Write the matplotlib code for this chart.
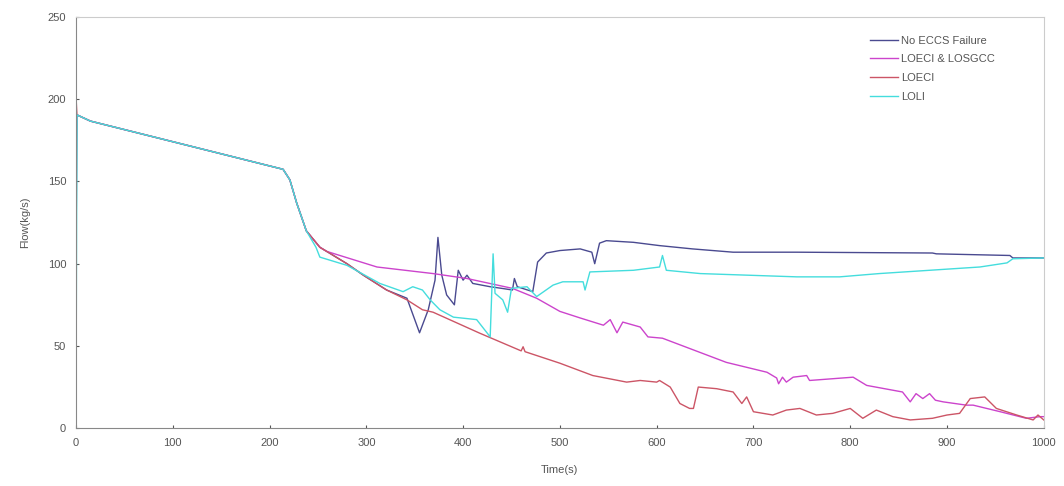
import matplotlib
matplotlib.use("Agg")
import matplotlib.pyplot as plt

plt.rcParams['font.family'] = ['Liberation Sans', 'DejaVu Sans']

# No ECCS Failure
t_eccs = [0, 1, 15, 214, 221, 228, 238, 252, 259, 280, 297, 321, 342, 355, 364, 371, 374,
          378, 383, 391, 395, 400, 404, 410, 428, 440, 451, 453, 456, 472, 477, 486, 500, 521, 533,
          536, 541, 548, 576, 603, 637, 679, 745, 885, 889, 965, 968, 1000]
v_eccs = [100, 190.5, 186.7, 157.4, 151, 137, 120, 110, 107.5, 100, 93, 84, 79, 58, 72, 90, 116,
          93, 81, 75, 96, 90, 93, 88, 86, 85, 84, 91, 86, 83, 101, 106.5, 108, 109, 107,
          100, 112.5, 114, 113, 111, 109, 107, 107, 106.5, 106, 105, 103.5, 103.5]

# LOECI & LOSGCC
t_losg = [0, 1, 15, 214, 221, 228, 238, 252, 259, 311, 369, 404, 451, 476, 500, 521, 545,
          552, 559, 565, 583, 591, 606, 672, 693, 714, 724, 726, 730, 734, 741, 755, 758,
          803, 817, 854, 862, 868, 875, 882, 888, 896, 920, 927, 955, 982, 996, 1000]
v_losg = [190.5, 190.5, 186.7, 157.4, 151, 137, 120, 110, 107.5, 98, 94, 91, 85, 79, 71, 67, 62.6,
          66, 58, 64.5, 61.5, 55.5, 54.7, 40, 37, 34, 30.5, 27, 31, 28, 31, 32, 29,
          31, 26, 22, 16, 21, 18, 21, 17, 16, 14, 14, 10, 6, 7, 7]

# LOECI
t_loeci = [0, 1, 15, 214, 221, 228, 238, 252, 259, 280, 297, 321, 342, 358, 369, 417, 460,
           462, 464, 500, 534, 569, 583, 600, 603, 614, 624, 634, 638, 643, 662, 679, 688,
           693, 700, 720, 734, 748, 765, 782, 800, 813, 827, 844, 862, 885, 900, 913, 924,
           939, 951, 972, 989, 994, 1000]
v_loeci = [202, 190.5, 186.7, 157.4, 151, 137, 120, 110, 107.5, 100, 93, 84, 78, 72, 70.5, 57.8, 47,
           49.5, 46.5, 39.5, 32, 28, 29, 28, 29, 25, 15, 12, 12, 25, 24, 22, 15,
           19, 10, 8, 11, 12, 8, 9, 12, 6, 11, 7, 5, 6, 8, 9, 18,
           19, 12, 8, 5, 8, 5]

# LOLI
t_loli = [0, 1, 15, 214, 221, 228, 238, 248, 252, 280, 314, 338, 348, 358, 366, 376, 390,
          414, 428, 431, 433, 441, 446, 450, 466, 476, 493, 503, 524, 526, 531, 576, 603,
          606, 610, 645, 745, 789, 830, 882, 934, 962, 968, 1000]
v_loli = [0, 190.5, 186.7, 157.4, 151, 137, 120, 110, 104, 99, 88, 83, 86, 84, 78, 72, 67.5,
          66, 55.5, 106, 82, 78, 70.5, 85, 86, 80, 87, 89, 89, 84, 95, 96, 98,
          105, 96, 94, 92, 92, 94, 96, 98, 100.5, 103, 103.5]

fig = plt.figure(figsize=(10.64, 4.86), dpi=100)
ax = fig.add_axes([0.0714, 0.119, 0.9096, 0.846])

ax.plot(t_eccs, v_eccs, color='#4a4a90', lw=1.0, label='No ECCS Failure')
ax.plot(t_losg, v_losg, color='#cc44cc', lw=1.0, label='LOECI & LOSGCC')
ax.plot(t_loeci, v_loeci, color='#cc5566', lw=1.0, label='LOECI')
ax.plot(t_loli, v_loli, color='#44dddd', lw=1.0, label='LOLI')

ax.set_xlim(0, 1000)
ax.set_ylim(0, 250)
ax.set_xticks(range(0, 1001, 100))
ax.set_yticks(range(0, 251, 50))
ax.tick_params(direction='in', length=2, labelsize=8, colors='#555555', pad=7)
ax.set_xlabel('Time(s)', fontsize=8, color='#555555', labelpad=12)
ax.set_ylabel('Flow(kg/s)', fontsize=8, color='#555555', labelpad=13)

for side in ['left', 'bottom']:
    ax.spines[side].set_color('#888888')
for side in ['top', 'right']:
    ax.spines[side].set_color('#cccccc')

ax.legend(loc='upper left', bbox_to_anchor=(0.82, 0.955), frameon=False, fontsize=8,
          handlelength=2.6, handletextpad=0.25, labelspacing=0.78, borderpad=0,
          borderaxespad=0, labelcolor='#555555')

fig.savefig('out.png', dpi=100)
